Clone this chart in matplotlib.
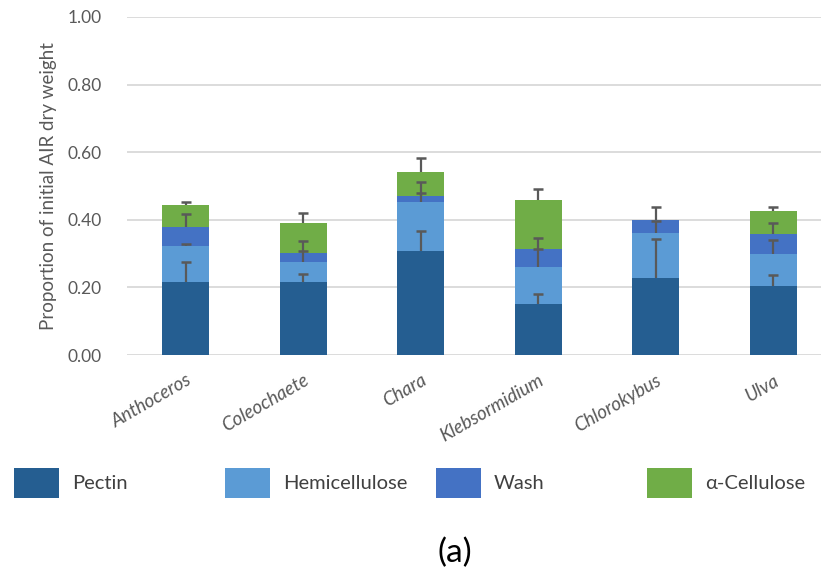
import matplotlib
matplotlib.use("Agg")
import matplotlib.pyplot as plt
from matplotlib.patches import Patch
import numpy as np

plt.rcParams['font.family'] = ['Lato', 'DejaVu Sans']

categories = ["Anthoceros", "Coleochaete", "Chara", "Klebsormidium", "Chlorokybus", "Ulva"]
series_names = ["Pectin", "Hemicellulose", "Wash", "α-Cellulose"]
pectin = [0.217, 0.217, 0.309, 0.151, 0.227, 0.204]
hemicellulose = [0.106, 0.059, 0.145, 0.108, 0.133, 0.095]
wash = [0.055, 0.025, 0.017, 0.054, 0.039, 0.058]
cellulose = [0.066, 0.089, 0.071, 0.146, 0.0, 0.070]
pectin_err = [0.059, 0.023, 0.059, 0.029, 0.116, 0.033]
hemicellulose_err = [0.004, 0.033, 0.026, 0.054, 0.037, 0.041]
wash_err = [0.040, 0.036, 0.042, 0.032, 0.040, 0.033]
cellulose_err = [0.010, 0.031, 0.040, 0.031, 0.0, 0.012]
yticks = [0.0, 0.2, 0.4, 0.6, 0.8, 1.0]

colors = ["#255E91", "#5B9BD5", "#4472C4", "#70AD47"]
tick_color = "#595959"
err_color = "#595959"

fig = plt.figure(figsize=(8.21, 5.74), dpi=100)
ax = fig.add_axes([127 / 821, 0.3815, 705 / 821, 0.5889])

x = np.arange(len(categories))
width = 0.40
series = [pectin, hemicellulose, wash, cellulose]
errs = [pectin_err, hemicellulose_err, wash_err, cellulose_err]
bottom = np.zeros(len(categories))
for vals, err, col, name in zip(series, errs, colors, series_names):
    vals = np.array(vals)
    ax.bar(x, vals, width, bottom=bottom, color=col, label=name, zorder=2)
    top = bottom + vals
    e = np.array(err)
    mask = ~((vals == 0) & (e == 0))
    ax.errorbar(x[mask], top[mask], yerr=[np.zeros(mask.sum()), e[mask]], fmt='none',
                ecolor=err_color, elinewidth=1.6, capsize=0, zorder=3)
    ax.plot(x[mask], (top + e)[mask], linestyle='none', marker='_', markersize=7.5,
            markeredgewidth=1.8, color=err_color, zorder=3)
    bottom = top

ax.set_xlim(-0.5, len(categories) - 0.5)
ax.set_ylim(0, 1.0)
ax.set_yticks(yticks)
ax.set_yticklabels([f"{v:.2f}" for v in yticks])
ax.set_xticks(x)
ax.set_xticklabels(categories, rotation=30, ha='right', va='top', rotation_mode='anchor',
                   style='italic', fontsize=13.5, color=tick_color)
ax.tick_params(axis='both', length=0)
ax.tick_params(axis='y', labelsize=12.5, labelcolor=tick_color, pad=18)
ax.tick_params(axis='x', pad=12)
for s in ax.spines.values():
    s.set_visible(False)
ax.yaxis.grid(True, color="#d9d9d9", linewidth=1.3)
ax.set_axisbelow(True)
ax.set_ylabel("Proportion of initial AIR dry weight", fontsize=13.5, color=tick_color, labelpad=8)

# legend entries
lefts = [14, 225, 436, 647]
fs = 14.5
em = fs * 100 / 72
for lx, name, col in zip(lefts, series_names, colors):
    fig.legend(handles=[Patch(facecolor=col, edgecolor='none')], labels=[name],
               loc='center left', bbox_to_anchor=(lx / 821, 1 - 483 / 574),
               frameon=False, fontsize=fs, handlelength=45 / em, handleheight=38 / em,
               handletextpad=13 / em, borderpad=0, borderaxespad=0, labelcolor="#404040")

fig.text(455 / 821, 1 - 553 / 574, "(a)", ha='center', va='center', fontsize=24, color="#000000")

fig.savefig("out.png", dpi=100)
